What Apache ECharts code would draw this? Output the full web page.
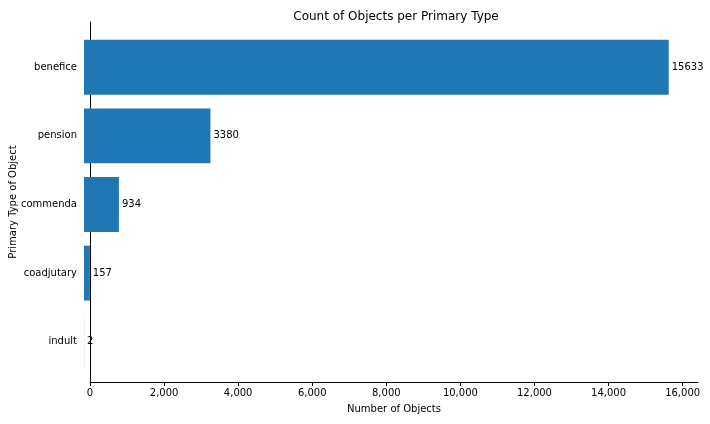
<!DOCTYPE html>
<html><head><meta charset="utf-8">
<script src="https://cdn.jsdelivr.net/npm/echarts@6/dist/echarts.min.js"></script>
<style>html,body{margin:0;padding:0;background:#fff}#c{width:710px;height:424px}</style>
</head><body><div id="c"></div>
<script>
const categories = ['indult','coadjutary','commenda','pension','benefice'];
const counts = [2,157,934,3380,15633];
const xMax = 16415;
const font = 'DejaVu Sans';
const chart = echarts.init(document.getElementById('c'));
chart.setOption({
  animation:false,
  textStyle:{fontFamily:font},
  title:{text:'Count of Objects per Primary Type',left:391,top:6,textAlign:'center',textStyle:{fontSize:12,fontWeight:'normal',color:'#000',fontFamily:font}},
  grid:[
    {left:84,right:12,top:33,bottom:48},
    {left:84,right:12,top:22,bottom:42}
  ],
  xAxis:[
    {gridIndex:0,type:'value',min:0,max:xMax,show:false},
    {gridIndex:1,type:'value',min:0,max:xMax,interval:2000,
     name:'Number of Objects',nameLocation:'middle',nameGap:22,nameTextStyle:{fontSize:10,color:'#000'},
     axisLine:{lineStyle:{color:'#000'}},axisTick:{length:4,lineStyle:{color:'#000'}},
     axisLabel:{fontSize:10,color:'#000',margin:6},splitLine:{show:false}}
  ],
  yAxis:[
    {gridIndex:0,type:'category',data:categories,axisLine:{show:false},
     axisTick:{alignWithLabel:true,length:4,lineStyle:{color:'#000'}},
     axisLabel:{fontSize:10,color:'#000',margin:7}},
    {gridIndex:1,type:'value',min:0,max:1,axisLine:{show:true,lineStyle:{color:'#000'}},
     axisTick:{show:false},axisLabel:{show:false},splitLine:{show:false},
     name:'Primary Type of Object',nameLocation:'middle',nameGap:72,nameRotate:90,nameTextStyle:{fontSize:10,color:'#000'}}
  ],
  series:[{type:'bar',xAxisIndex:0,yAxisIndex:0,data:counts,barWidth:'80%',
    itemStyle:{color:'#1f77b4'},
    label:{show:true,position:'right',distance:3,fontSize:10,color:'#000',fontFamily:font}}]
});
</script></body></html>
